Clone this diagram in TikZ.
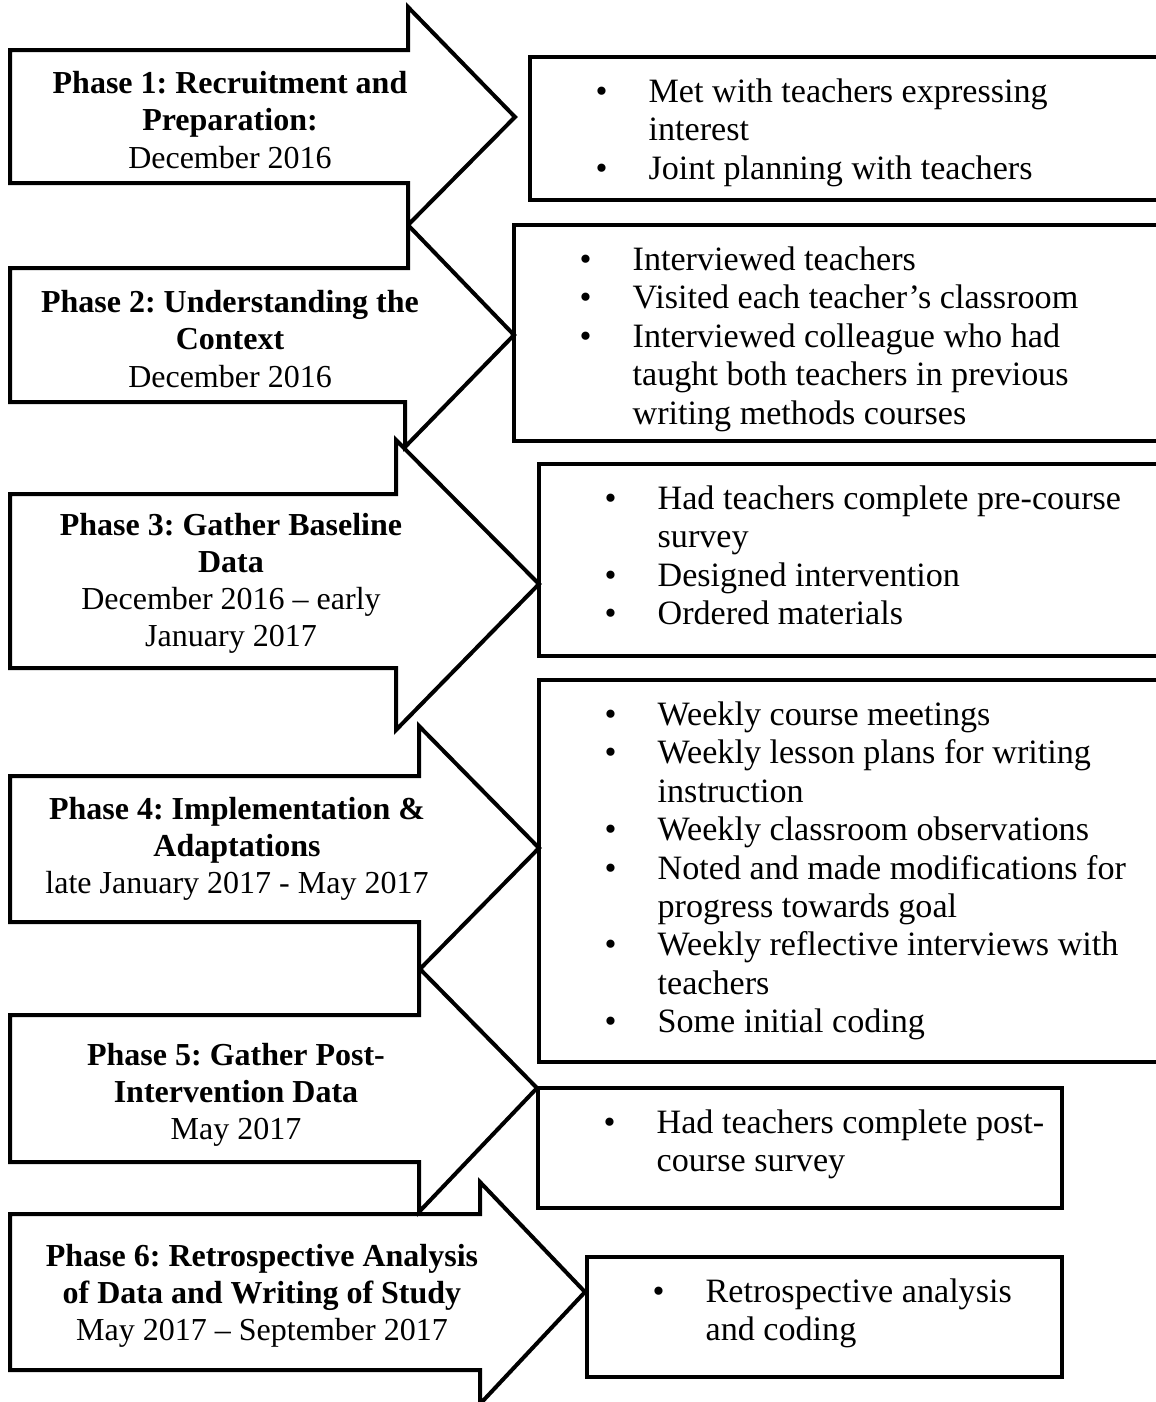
\documentclass[tikz,border=0pt]{standalone}
\usepackage{fontspec}
\setmainfont{Liberation Serif}
\frenchspacing
\newcommand{\bul}{\makebox[16.9pt][l]{\hspace*{-3pt}\textbullet}}
\newcommand{\ind}{\hspace*{16.9pt}}

\begin{document}
\begin{tikzpicture}[x=0.375pt, y=-0.375pt,
  phasearrow/.style={line width=1.5pt, line join=miter},
  phasetext/.style={align=center, inner sep=0pt, font=\fontsize{12}{13.9}\selectfont},
  listbox/.style={draw, line width=1.2pt},
  listtext/.style={anchor=north west, inner sep=0pt, xshift=27.4pt, yshift=-6.8pt, font=\fontsize{12.8}{14.4}\selectfont}]
  \useasboundingbox (0,0) rectangle (1156,1402);
  \clip (0,0) rectangle (1156,1402);

  % Phase 1
  \draw[phasearrow] (10,50) -- (408,50) -- (408,7) -- (515,117) -- (408,225) -- (408,183) -- (10,183) -- cycle;
  \node[phasetext] (p1) at (230,120) {\textbf{Phase 1: Recruitment and}\\\textbf{Preparation:}\\December 2016};
  \draw[listbox] (530,57) rectangle (1170,200);
  \node[listtext] (l1) at (530,57) {\begin{tabular}{@{}l@{}}
    \bul Met with teachers expressing\\ \ind interest\\
    \bul Joint planning with teachers\end{tabular}};

  % Phase 2
  \draw[phasearrow] (10,268) -- (408,268) -- (408,225) -- (514,335) -- (405,447) -- (405,402) -- (10,402) -- cycle;
  \node[phasetext] (p2) at (230,339) {\textbf{Phase 2: Understanding the}\\\textbf{Context}\\December 2016};
  \draw[listbox] (514,225) rectangle (1170,441);
  \node[listtext] (l2) at (514,225) {\begin{tabular}{@{}l@{}}
    \bul Interviewed teachers\\
    \bul Visited each teacher’s classroom\\
    \bul Interviewed colleague who had\\ \ind taught both teachers in previous\\ \ind writing methods courses\end{tabular}};

  % Phase 3
  \draw[phasearrow] (10,494) -- (396,494) -- (396,440) -- (539,584) -- (396,730) -- (396,668) -- (10,668) -- cycle;
  \node[phasetext] (p3) at (231,583) {\textbf{Phase 3: Gather Baseline}\\\textbf{Data}\\December 2016 – early\\January 2017};
  \draw[listbox] (539,464) rectangle (1170,656);
  \node[listtext] (l3) at (539,464) {\begin{tabular}{@{}l@{}}
    \bul Had teachers complete pre-course\\ \ind survey\\
    \bul Designed intervention\\
    \bul Ordered materials\end{tabular}};

  % Phase 4
  \draw[phasearrow] (10,776) -- (419,776) -- (419,726) -- (539,848) -- (419,970) -- (419,922) -- (10,922) -- cycle;
  \node[phasetext] (p4) at (237,849) {\textbf{Phase 4: Implementation \&}\\\textbf{Adaptations}\\late January 2017 - May 2017};
  \draw[listbox] (539,680) rectangle (1170,1062);
  \node[listtext] (l4) at (539,680) {\begin{tabular}{@{}l@{}}
    \bul Weekly course meetings\\
    \bul Weekly lesson plans for writing\\ \ind instruction\\
    \bul Weekly classroom observations\\
    \bul Noted and made modifications for\\ \ind progress towards goal\\
    \bul Weekly reflective interviews with\\ \ind teachers\\
    \bul Some initial coding\end{tabular}};

  % Phase 5
  \draw[phasearrow] (10,1015) -- (419,1015) -- (419,968) -- (537,1088) -- (419,1212) -- (419,1162) -- (10,1162) -- cycle;
  \node[phasetext] (p5) at (236,1095) {\textbf{Phase 5: Gather Post-}\\\textbf{Intervention Data}\\May 2017};
  \draw[listbox] (538,1088) rectangle (1062,1208);
  \node[listtext] (l5) at (538,1088) {\begin{tabular}{@{}l@{}}
    \bul Had teachers complete post-\\ \ind course survey\end{tabular}};

  % Phase 6
  \draw[phasearrow] (10,1214) -- (480,1214) -- (480,1182) -- (585,1292) -- (480,1404) -- (480,1370) -- (10,1370) -- cycle;
  \node[phasetext] (p6) at (262,1296) {\textbf{Phase 6: Retrospective Analysis}\\\textbf{of Data and Writing of Study}\\May 2017 – September 2017};
  \draw[listbox] (587,1257) rectangle (1062,1377);
  \node[listtext] (l6) at (587,1257) {\begin{tabular}{@{}l@{}}
    \bul Retrospective analysis\\ \ind and coding\end{tabular}};
\end{tikzpicture}
\end{document}
